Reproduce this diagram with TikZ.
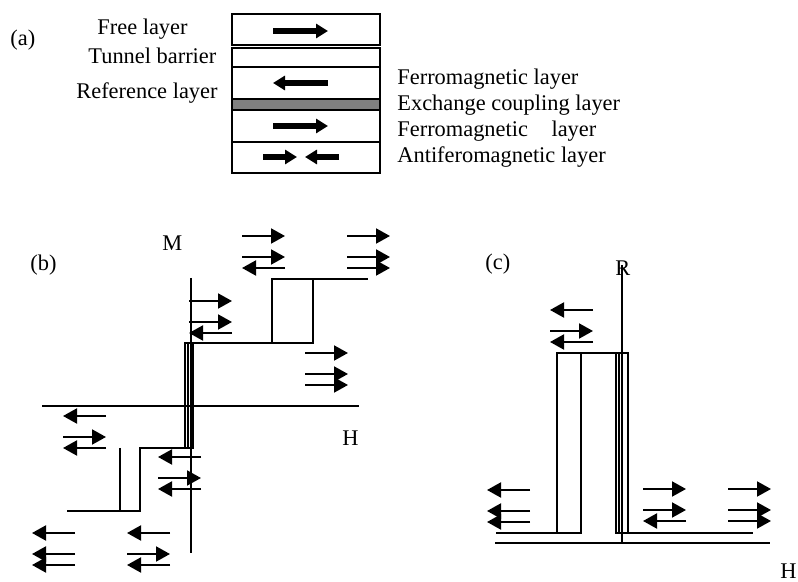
\documentclass[tikz,border=0pt]{standalone}
\usepackage{fontspec}
\setmainfont{Liberation Serif}
\usetikzlibrary{arrows.meta}

% one magnetisation arrow: left end x, row y, direction (1 = right, -1 = left)
\newcommand{\spinrow}[3]{%
  \draw[spin] ({#1+21.5-21.5*(#3)},#2) -- ++({43*(#3)},0);}
% free layer arrow on top, the two pinned layers below it
\newcommand{\spinstack}[5]{%
  \spinrow{#1}{#2}{#3}\spinrow{#1}{#2+21}{#4}\spinrow{#1}{#2+32}{#5}}

\begin{document}
\begin{tikzpicture}[
    x=0.5pt, y=-0.5pt,
    font=\fontsize{11.2}{13}\selectfont,
    lbl/.style={anchor=base west, inner sep=0pt},
    layer/.style={draw, line width=1pt},
    spacer/.style={layer, fill=black!50},
    bigspin/.style={-{Triangle[length=6pt, width=7pt]}, line width=3pt},
    spin/.style={-{Triangle[length=7pt, width=7.5pt]}, line width=1pt},
    axis/.style={line width=0.8pt},
    loop/.style={line width=0.8pt},
  ]
  \useasboundingbox (0,0) rectangle (798,582);

  % --- (a) layer stack ------------------------------------------------------
  \node[lbl] (tagA) at (10,46) {(a)};
  \node[lbl] (free) at (97,35) {Free layer};
  \node[lbl] (tunnel) at (88,64) {Tunnel barrier};
  \node[lbl] (ref) at (76,99) {Reference layer};

  \draw[layer] (232,14) rectangle (380,45);
  \draw[layer] (232,48) rectangle (380,67);
  \draw[layer] (232,67) rectangle (380,99);
  \draw[spacer] (232,99) rectangle (380,110);
  \draw[layer] (232,110) rectangle (380,142);
  \draw[layer] (232,142) rectangle (380,173);

  \draw[bigspin] (273,31) -- (328,31);
  \draw[bigspin] (328,83) -- (273,83);
  \draw[bigspin] (273,126) -- (328,126);
  \draw[bigspin] (263,157) -- (297,157);
  \draw[bigspin] (339,157) -- (305,157);

  \node[lbl] (fm1) at (397,85) {Ferromagnetic layer};
  \node[lbl] (xc) at (397,111) {Exchange coupling layer};
  \node[lbl] (fm2) at (397,137) {Ferromagnetic\hspace{1.05em}layer};
  \node[lbl] (afm) at (397,163) {Antiferomagnetic layer};

  % --- (b) M(H) loop --------------------------------------------------------
  \node[lbl] (tagB) at (30,271) {(b)};
  \node[lbl] (labM) at (162,251) {M};
  \node[lbl] (labHb) at (342,446) {H};

  \draw[axis] (191,278) -- (191,553);
  \draw[axis] (42,406) -- (359,406);

  \draw[loop] (185,448) -- (185,343) -- (313,343) -- (313,279) -- (368,279);
  \draw[loop] (272,343) -- (272,279) -- (313,279);
  \draw[loop] (67,511) -- (140,511) -- (140,448) -- (193,448) -- (193,343);
  \draw[loop] (120,448) -- (120,511);
  \draw[loop] (188,343) -- (188,448);

  \spinstack{242}{236}{1}{1}{-1}
  \spinstack{347}{236}{1}{1}{1}
  \spinstack{189}{301}{1}{1}{-1}
  \spinstack{305}{353}{1}{1}{1}
  \spinstack{63}{416}{-1}{1}{-1}
  \spinstack{158}{457}{-1}{1}{-1}
  \spinstack{32}{533}{-1}{-1}{-1}
  \spinstack{127}{533}{-1}{1}{-1}

  % --- (c) R(H) loop --------------------------------------------------------
  \node[lbl] (tagC) at (485,270) {(c)};
  \node[lbl] (labR) at (615,276) {R};
  \node[lbl] (labHc) at (780,578) {H};

  \draw[axis] (622,265) -- (622,543);
  \draw[axis] (495,543) -- (770,543);

  \draw[loop] (496,533) -- (581,533) -- (581,353);
  \draw[loop] (557,533) -- (557,353) -- (628,353) -- (628,533) -- (753,533);
  \draw[loop] (616,353) -- (616,533) -- (628,533);
  \draw[loop] (619,353) -- (619,533);

  \spinstack{550}{310}{-1}{1}{-1}
  \spinstack{487}{490}{-1}{-1}{-1}
  \spinstack{643}{489}{1}{1}{-1}
  \spinstack{728}{489}{1}{1}{1}

\end{tikzpicture}
\end{document}
